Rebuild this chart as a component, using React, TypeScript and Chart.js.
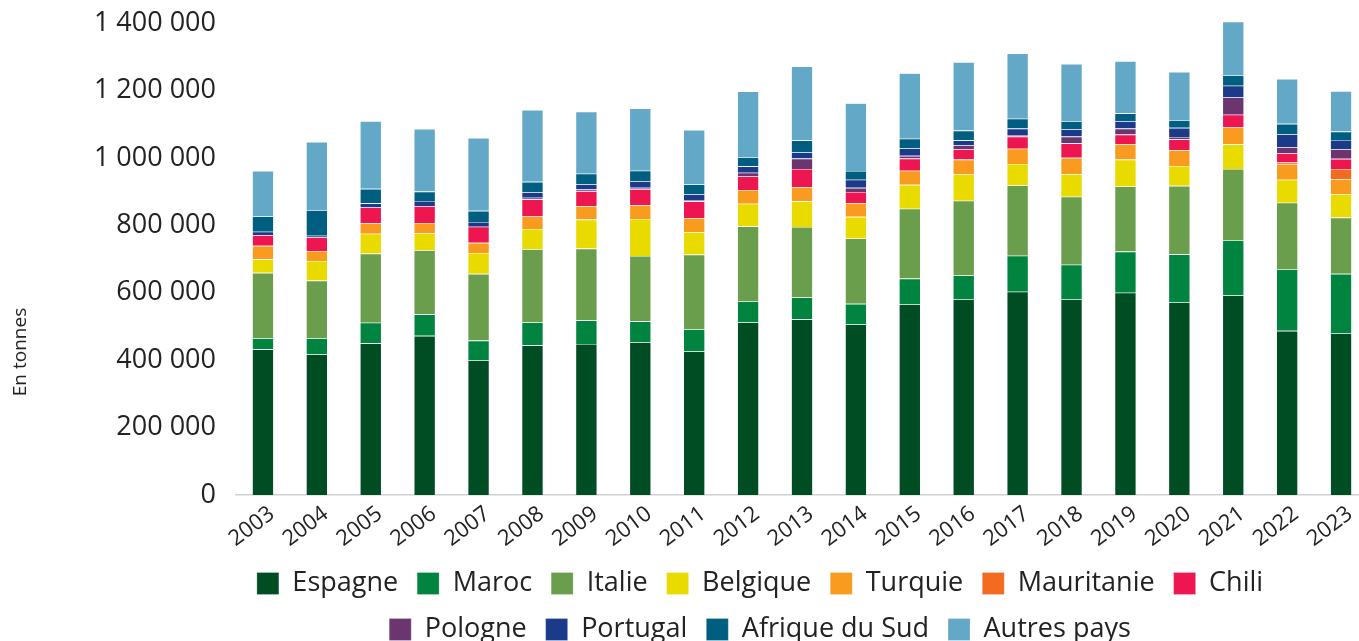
import React, { useEffect, useRef } from "react";
import { Chart, registerables } from "chart.js";

Chart.register(...registerables);

const years = ["2003", "2004", "2005", "2006", "2007", "2008", "2009", "2010", "2011", "2012", "2013", "2014", "2015", "2016", "2017", "2018", "2019", "2020", "2021", "2022", "2023"];

const espagne = [432000, 417000, 450000, 472000, 400000, 444000, 448000, 453000, 426000, 512000, 521000, 506000, 566000, 581000, 603000, 581000, 600000, 572000, 592000, 487000, 480000];
const maroc = [33000, 48000, 61000, 64000, 58000, 68000, 70000, 62000, 66000, 63000, 65000, 61000, 76000, 70000, 107000, 102000, 122000, 142000, 164000, 183000, 176000];
const italie = [194000, 171000, 205000, 190000, 198000, 217000, 213000, 194000, 221000, 222000, 209000, 194000, 207000, 222000, 208000, 202000, 193000, 203000, 211000, 197000, 167000];
const belgique = [40000, 58000, 59000, 50000, 62000, 60000, 86000, 110000, 67000, 67000, 76000, 64000, 71000, 78000, 64000, 67000, 80000, 59000, 73000, 68000, 69000];
const turquie = [40000, 30000, 31000, 31000, 30000, 37000, 40000, 41000, 41000, 41000, 42000, 41000, 42000, 44000, 45000, 48000, 46000, 47000, 50000, 47000, 45000];
const mauritanie = [0, 0, 0, 0, 0, 0, 0, 0, 0, 0, 0, 0, 0, 0, 0, 0, 0, 0, 0, 4000, 30000];
const chili = [32000, 40000, 47000, 50000, 48000, 51000, 44000, 47000, 50000, 40000, 54000, 33000, 36000, 30000, 36000, 43000, 28000, 32000, 38000, 28000, 30000];
const pologne = [0, 0, 0, 0, 0, 5000, 5000, 4000, 4000, 11000, 31000, 12000, 8000, 12000, 5000, 20000, 18000, 7000, 51000, 18000, 29000];
const portugal = [10000, 5000, 12000, 15000, 14000, 16000, 16000, 20000, 17000, 19000, 18000, 24000, 22000, 15000, 19000, 22000, 22000, 27000, 35000, 38000, 27000];
const afriqueDuSud = [45000, 76000, 43000, 28000, 33000, 31000, 31000, 31000, 29000, 27000, 36000, 26000, 29000, 29000, 29000, 24000, 23000, 23000, 31000, 31000, 25000];
const autresPays = [135000, 202000, 201000, 186000, 216000, 213000, 184000, 185000, 162000, 195000, 219000, 201000, 194000, 203000, 194000, 170000, 155000, 143000, 159000, 133000, 120000];

const seriesNames = ["Espagne", "Maroc", "Italie", "Belgique", "Turquie", "Mauritanie", "Chili", "Pologne", "Portugal", "Afrique du Sud", "Autres pays"];
const seriesValues = [espagne, maroc, italie, belgique, turquie, mauritanie, chili, pologne, portugal, afriqueDuSud, autresPays];
const seriesColors = ["#004c23", "#00843f", "#6a9e4c", "#e9da00", "#f89b1f", "#f26b21", "#ee1650", "#6b3670", "#1b3a8a", "#005e80", "#64a8c8"];

const yTicks = [0, 200000, 400000, 600000, 800000, 1000000, 1200000, 1400000];
const yAxisTitle = "En tonnes";

const FONT = "'Open Sans', 'DejaVu Sans', sans-serif";
const TEXT = "#222222";

function fmt(v: number): string {
  return String(v).replace(/\B(?=(\d{3})+(?!\d))/g, " ");
}

export default function App() {
  const ref = useRef<HTMLCanvasElement>(null);

  useEffect(() => {
    if (!ref.current) return;

    const yTitlePlugin = {
      id: "yTitleCustom",
      afterDraw(chart: any) {
        const { ctx, chartArea } = chart;
        ctx.save();
        ctx.translate(21, chartArea.bottom - 143);
        ctx.rotate(-Math.PI / 2);
        ctx.font = `19px ${FONT}`;
        ctx.fillStyle = TEXT;
        ctx.textAlign = "center";
        ctx.textBaseline = "middle";
        ctx.fillText(yAxisTitle, 0, 0);
        ctx.restore();
      },
    };

    const legendShift = {
      id: "legendShift",
      afterLayout(chart: any) {
        const l = chart.legend;
        if (!l) return;
        l.left -= 42;
        l.right -= 42;
        l.top -= 4;
        l.bottom -= 4;
      },
    };

    const chart = new Chart(ref.current, {
      type: "bar",
      data: {
        labels: years,
        datasets: seriesNames.map((name, i) => ({
          label: name,
          data: seriesValues[i],
          backgroundColor: seriesColors[i],
          borderColor: "rgba(255,255,255,0.4)",
          borderWidth: 0.6,
          categoryPercentage: 0.8,
          barPercentage: 0.5,
          clip: false as any,
        })),
      },
      options: {
        responsive: false,
        animation: false,
        layout: { padding: { top: 23, left: 0, right: 0, bottom: 0 } },
        plugins: {
          tooltip: { enabled: false },
          title: { display: false },
          legend: {
            position: "bottom",
            fullSize: false,
            labels: {
              boxWidth: 22,
              boxHeight: 22,
              padding: 19,
              color: TEXT,
              font: { family: FONT, size: 27 },
            },
          },
        },
        scales: {
          x: {
            stacked: true,
            grid: { display: false, drawTicks: false },
            border: { display: true, color: "#cfcfd6", width: 1.5 },
            ticks: {
              color: TEXT,
              font: { family: FONT, size: 22 },
              minRotation: 37,
              maxRotation: 37,
              padding: 6,
              labelOffset: 9,
              autoSkip: false,
            },
            afterFit: (s: any) => {
              s.height = 60;
            },
          },
          y: {
            stacked: true,
            min: 0,
            max: 1400000,
            grid: { display: false, drawTicks: false },
            border: { display: false },
            afterBuildTicks: (s: any) => {
              s.ticks = yTicks.map((v) => ({ value: v }));
            },
            ticks: {
              color: TEXT,
              font: { family: FONT, size: 27 },
              padding: 20,
              callback: (v: any) => fmt(Number(v)),
            },
            afterFit: (s: any) => {
              s.width = 236;
              s.paddingTop = 0;
              s.paddingBottom = 0;
            },
          },
        },
      },
      plugins: [yTitlePlugin, legendShift],
    });

    return () => chart.destroy();
  }, []);

  return (
    <div style={{ position: "absolute", left: 0, top: 0, width: 1359, height: 641, overflow: "hidden", background: "#fff" }}>
      <canvas ref={ref} width={1368} height={657} style={{ width: 1368, height: 657, display: "block" }} />
    </div>
  );
}
